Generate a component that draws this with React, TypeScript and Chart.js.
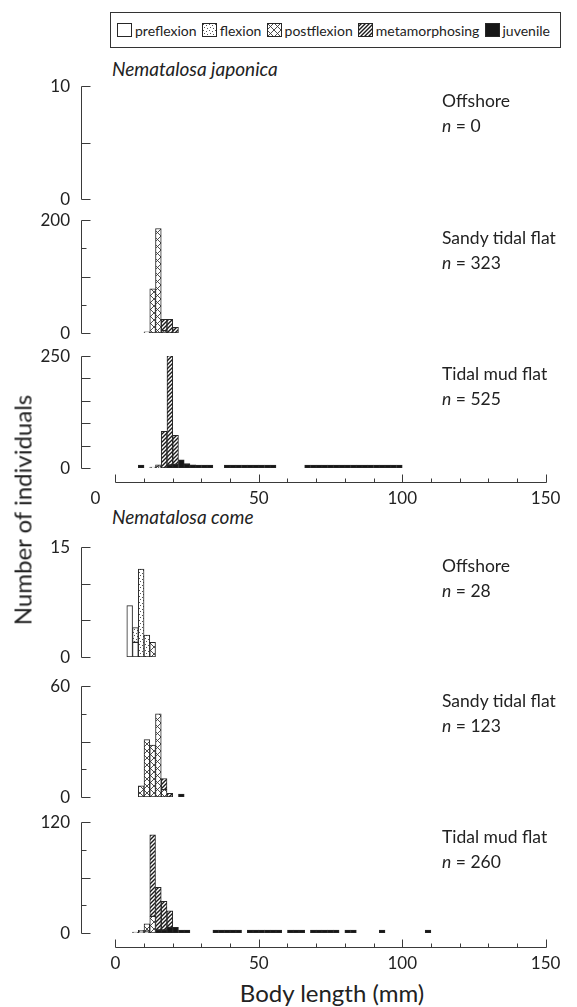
import { useEffect, useRef } from "react";
import { Chart, registerables } from "chart.js";

Chart.register(...registerables);

type Bin = [number, number]; // [bin start in mm, number of individuals]

const BIN_WIDTH = 2;
const X_MIN = 0;
const X_MAX = 150;
const X_TICK_STEP = 10;
const X_MAJOR_STEP = 50;
const X_LABELS = [0, 50, 100, 150];
const STAGES = ["preflexion", "flexion", "postflexion", "metamorphosing", "juvenile"];
const SPECIES = ["Nematalosa japonica", "Nematalosa come"];
const SITES = ["Offshore", "Sandy tidal flat", "Tidal mud flat"];

// ---------- Nematalosa japonica ----------
const japOffN = 0;
const japSandyN = 323;
const japSandyPre: Bin[] = [[10, 2]];
const japSandyPost: Bin[] = [[12, 78], [14, 185], [16, 4]];
const japSandyMeta: Bin[] = [[16, 20], [18, 24], [20, 10]];

const japMudN = 525;
const japMudPost: Bin[] = [[12, 2], [14, 2]];
const japMudMeta: Bin[] = [[14, 5], [16, 82], [18, 244], [20, 65]];
const japMudJuv: Bin[] = [
  [8, 1], [18, 2], [20, 8], [22, 18], [24, 10], [26, 7], [28, 5], [30, 4], [32, 3],
  [38, 1], [40, 1], [42, 2], [44, 2], [46, 1], [48, 1], [50, 1], [52, 1], [54, 1],
  [66, 1], [68, 1], [70, 3], [72, 3], [74, 2], [76, 2], [78, 2], [80, 2], [82, 2],
  [84, 3], [86, 3], [88, 2], [90, 2], [92, 2], [94, 1], [96, 1], [98, 1],
];

// ---------- Nematalosa come ----------
const comeOffN = 28;
const comeOffPre: Bin[] = [[4, 7], [6, 2]];
const comeOffFlex: Bin[] = [[6, 2], [8, 12], [10, 3]];
const comeOffPost: Bin[] = [[12, 2]];

const comeSandyN = 123;
const comeSandyPost: Bin[] = [[8, 6], [10, 31], [12, 28], [14, 45], [16, 4]];
const comeSandyMeta: Bin[] = [[16, 6], [18, 2]];
const comeSandyJuv: Bin[] = [[22, 1]];

const comeMudN = 260;
const comeMudPre: Bin[] = [[6, 1], [8, 1]];
const comeMudFlex: Bin[] = [[8, 2], [10, 2]];
const comeMudPost: Bin[] = [[10, 8], [12, 18]];
const comeMudMeta: Bin[] = [[12, 88], [14, 46], [16, 31], [18, 18]];
const comeMudJuv: Bin[] = [
  [14, 2], [16, 3], [18, 6], [20, 6], [22, 3], [24, 1],
  [34, 1], [36, 2], [38, 1], [40, 1], [42, 1],
  [46, 1], [48, 1], [50, 1], [52, 1], [54, 1], [56, 1],
  [60, 1], [62, 1], [64, 1], [68, 1], [70, 1], [72, 1], [74, 1], [76, 1],
  [80, 1], [82, 1], [92, 1], [108, 1],
];

// y-axis scales of the six panels
const Y_MAX = [10, 200, 250, 15, 60, 120];
const Y_MAJOR_TICKS = [[0, 5, 10], [0, 100, 200], [0, 50, 100, 150, 200, 250], [0, 5, 10, 15], [0, 30, 60], [0, 60, 120]];
const Y_MINOR_TICKS = [[], [50, 150], [], [], [15, 45], [30, 90]];
const Y_LABELS = [[0, 10], [0, 200], [0, 250], [0, 15], [0, 60], [0, 120]];

// ---------- layout (pixels) ----------
const W = 577;
const H = 1007;
const PLOT_LEFT = 101;
const PLOT_RIGHT = 560;
const Y_AXIS_X = 81;
const PANEL_TOP = [86, 220, 356, 547, 686, 822];
const PANEL_BOTTOM = [199, 333, 468, 657, 797, 933];
const X_AXIS_GAP = 14;
const FONT = "Lato, 'Open Sans', sans-serif";
const AXIS_COLOR = "#3a3a3a";

function makeFill(kind: number): string | CanvasPattern {
  if (kind === 0) return "#ffffff";
  if (kind === 4) return "#161616";
  const c = document.createElement("canvas");
  const g = c.getContext("2d")!;
  if (kind === 1) {
    c.width = 6; c.height = 6;
    g.fillStyle = "#fff"; g.fillRect(0, 0, 6, 6);
    g.fillStyle = "#555";
    g.fillRect(1, 1, 1, 1); g.fillRect(4, 2, 1, 1); g.fillRect(2, 4, 1, 1); g.fillRect(5, 5, 1, 1);
  } else if (kind === 2) {
    c.width = 7; c.height = 7;
    g.fillStyle = "#fff"; g.fillRect(0, 0, 7, 7);
    g.strokeStyle = "#3a3a3a"; g.lineWidth = 0.9;
    g.beginPath();
    g.moveTo(0, 0); g.lineTo(7, 7);
    g.moveTo(7, 0); g.lineTo(0, 7);
    g.stroke();
  } else {
    c.width = 4; c.height = 4;
    g.fillStyle = "#fff"; g.fillRect(0, 0, 4, 4);
    g.strokeStyle = "#1a1a1a"; g.lineWidth = 1.4;
    g.beginPath();
    g.moveTo(-1, 5); g.lineTo(5, -1);
    g.moveTo(-1, 1); g.lineTo(1, -1);
    g.moveTo(3, 5); g.lineTo(5, 3);
    g.stroke();
  }
  return g.createPattern(c, "repeat")!;
}

const PANEL_DATA: Bin[][][] = [
  [[], [], [], [], []],
  [japSandyPre, [], japSandyPost, japSandyMeta, []],
  [[], [], japMudPost, japMudMeta, japMudJuv],
  [comeOffPre, comeOffFlex, comeOffPost, [], []],
  [[], [], comeSandyPost, comeSandyMeta, comeSandyJuv],
  [comeMudPre, comeMudFlex, comeMudPost, comeMudMeta, comeMudJuv],
];
const PANEL_N = [japOffN, japSandyN, japMudN, comeOffN, comeSandyN, comeMudN];
// stacking order from the baseline upwards
const STACK_ORDER = [4, 0, 1, 2, 3];

const axesPlugin = {
  id: "histAxes",
  afterDraw(chart: any, _args: any, opts: any) {
    const ctx = chart.ctx as CanvasRenderingContext2D;
    const xs = chart.scales.x;
    const ys = chart.scales.y;
    const p = opts.panel as number;
    ctx.save();
    ctx.strokeStyle = AXIS_COLOR;
    ctx.fillStyle = "#222";
    ctx.lineWidth = 1;
    const ax = Y_AXIS_X + 0.5;
    const yTop = Math.round(ys.getPixelForValue(Y_MAX[p])) + 0.5;
    const yBot = Math.round(ys.getPixelForValue(0)) + 0.5;
    ctx.beginPath();
    ctx.moveTo(ax, yTop);
    ctx.lineTo(ax, yBot);
    for (const v of Y_MAJOR_TICKS[p]) {
      const py = Math.round(ys.getPixelForValue(v)) + 0.5;
      ctx.moveTo(ax, py); ctx.lineTo(ax + 9, py);
    }
    for (const v of Y_MINOR_TICKS[p]) {
      const py = Math.round(ys.getPixelForValue(v)) + 0.5;
      ctx.moveTo(ax, py); ctx.lineTo(ax + 5, py);
    }
    ctx.stroke();
    ctx.font = `17px ${FONT}`;
    ctx.textAlign = "right";
    ctx.textBaseline = "middle";
    for (const v of Y_LABELS[p]) {
      ctx.fillText(String(v), 70, ys.getPixelForValue(v) + 1);
    }
    if (opts.xAxis) {
      const by = yBot + X_AXIS_GAP;
      const x0 = Math.round(xs.getPixelForValue(X_MIN)) + 0.5;
      const x1 = Math.round(xs.getPixelForValue(X_MAX)) + 0.5;
      ctx.beginPath();
      ctx.moveTo(x0, by); ctx.lineTo(x1, by);
      for (let v = X_MIN; v <= X_MAX; v += X_TICK_STEP) {
        const px = Math.round(xs.getPixelForValue(v)) + 0.5;
        const len = v % X_MAJOR_STEP === 0 ? 8 : 4;
        ctx.moveTo(px, by); ctx.lineTo(px, by - len);
      }
      ctx.stroke();
      ctx.textAlign = "center";
      ctx.textBaseline = "middle";
      ctx.font = `17px ${FONT}`;
      for (const v of X_LABELS) {
        const shift = opts.zeroShift && v === 0 ? opts.zeroShift : 0;
        ctx.fillText(String(v), xs.getPixelForValue(v) + shift, by + 16);
      }
    }
    ctx.restore();
  },
};

function Panel({ p }: { p: number }) {
  const ref = useRef<HTMLCanvasElement>(null);
  const hasX = p === 2 || p === 5;
  const padTop = 12;
  const padBottom = hasX ? 40 : 6;
  const top = PANEL_TOP[p] - padTop;
  const height = PANEL_BOTTOM[p] - PANEL_TOP[p] + padTop + padBottom;
  useEffect(() => {
    const fills = [0, 1, 2, 3, 4].map(makeFill);
    const datasets = STACK_ORDER.map((s) => ({
      label: STAGES[s],
      data: PANEL_DATA[p][s].map(([start, count]) => ({ x: start + BIN_WIDTH / 2, y: count })),
      backgroundColor: fills[s],
      borderColor: "#262626",
      borderWidth: 1,
      borderSkipped: false,
      minBarLength: s === 4 ? 3 : 0,
      barPercentage: 1,
      categoryPercentage: 1,
    }));
    const chart = new Chart(ref.current!, {
      type: "bar",
      data: { datasets },
      options: {
        animation: false,
        responsive: false,
        layout: { padding: { left: PLOT_LEFT, right: W - PLOT_RIGHT, top: padTop, bottom: padBottom } },
        scales: {
          x: { type: "linear", min: X_MIN, max: X_MAX, stacked: true, display: false, ticks: { stepSize: X_TICK_STEP } },
          y: { min: 0, max: Y_MAX[p], stacked: true, display: false },
        },
        plugins: {
          legend: { display: false },
          tooltip: { enabled: false },
          histAxes: { panel: p, xAxis: hasX, zeroShift: p === 2 ? -20 : 0 },
        } as any,
      },
      plugins: [axesPlugin],
    });
    return () => chart.destroy();
  }, [p]);
  return (
    <canvas
      ref={ref}
      width={W}
      height={height}
      style={{ position: "absolute", left: 0, top, width: W, height }}
    />
  );
}

function Swatch({ kind }: { kind: number }) {
  const ref = useRef<HTMLCanvasElement>(null);
  useEffect(() => {
    const g = ref.current!.getContext("2d")!;
    g.fillStyle = makeFill(kind) as any;
    g.fillRect(0, 0, 15, 14);
    g.strokeStyle = "#262626";
    g.lineWidth = 1;
    g.strokeRect(0.5, 0.5, 14, 13);
  }, [kind]);
  return <canvas ref={ref} width={15} height={14} style={{ display: "block", marginRight: 3 }} />;
}

const textStyle = { position: "absolute" as const, fontFamily: FONT, color: "#222", whiteSpace: "nowrap" as const };

export default function App() {
  const siteLabelTop = [88, 225, 361, 553, 688, 824];
  return (
    <div style={{ position: "absolute", left: 0, top: 0, width: W, height: H, background: "#fff", overflow: "hidden" }}>
      {/* legend */}
      <div
        style={{
          position: "absolute", left: 110, top: 12, width: 451, height: 36,
          border: "1.5px solid #333", display: "flex", alignItems: "center",
          justifyContent: "space-between", padding: "0 10px 0 6px", boxSizing: "border-box",
          fontFamily: FONT, fontSize: 14, color: "#222",
        }}
      >
        {STAGES.map((s, i) => (
          <div key={s} style={{ display: "flex", alignItems: "center" }}>
            <Swatch kind={i} />
            <span>{s}</span>
          </div>
        ))}
      </div>

      <div style={{ ...textStyle, left: 112, top: 57, fontSize: 19, fontStyle: "italic" }}>{SPECIES[0]}</div>
      <div style={{ ...textStyle, left: 112, top: 505, fontSize: 19, fontStyle: "italic" }}>{SPECIES[1]}</div>

      {[0, 1, 2, 3, 4, 5].map((p) => (
        <Panel key={p} p={p} />
      ))}

      {[0, 1, 2, 3, 4, 5].map((p) => (
        <div key={"l" + p} style={{ ...textStyle, left: 442, top: siteLabelTop[p], fontSize: 17.5, lineHeight: "25px" }}>
          <div>{SITES[p % 3]}</div>
          <div>
            <i>n</i> = {PANEL_N[p]}
          </div>
        </div>
      ))}

      <div
        style={{
          ...textStyle, left: 22, top: 510, fontSize: 24,
          transform: "translate(-50%, -50%) rotate(-90deg)",
        }}
      >
        Number of individuals
      </div>
      <div style={{ ...textStyle, left: 332, top: 992, fontSize: 24, transform: "translate(-50%, -50%)" }}>
        Body length (mm)
      </div>
    </div>
  );
}
